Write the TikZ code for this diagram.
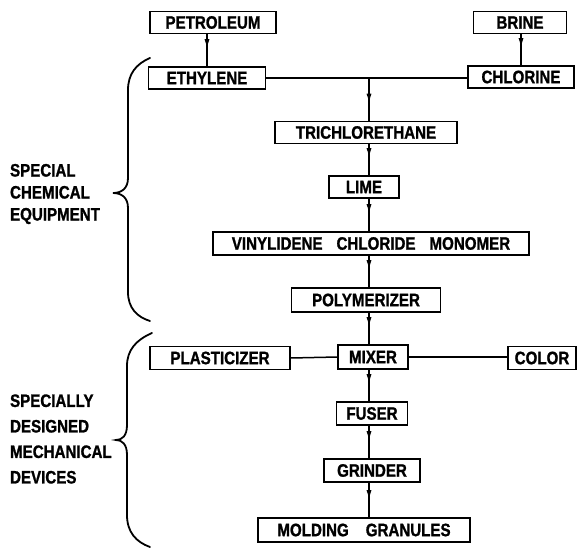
\documentclass[tikz,border=0pt]{standalone}
\usepackage{fontspec}
\setmainfont{Liberation Sans}[FakeStretch=0.84, BoldFeatures={FakeBold=1.2}]
\usetikzlibrary{
  arrows.meta
}

\begin{document}
\begin{tikzpicture}[
  x=1pt, y=-1pt,
  >=Latex,
  font=\fontsize{18}{20}\selectfont\bfseries,
  line width=1.5pt,
  box/.style={draw, line width=1.6pt, inner sep=0pt, minimum height=22pt},
  flow/.style={postaction={draw, -{Latex[length=10pt,width=5pt]}, shorten >=17pt}},
  brace/.style={line width=1.8pt, line cap=round}
]
  \useasboundingbox (0,0) rectangle (580,548);
  \coordinate (spine) at (369,0);
  % 原料
  \node[box, minimum width=126pt] (petroleum) at (213,22.5) {PETROLEUM};
  \node[box, minimum width=93pt]  (brine)     at (520,22.5) {BRINE};
  \node[box, minimum width=117pt] (ethylene)  at (207,78)   {ETHYLENE};
  \node[box, minimum width=106pt] (chlorine)  at (521,77)   {CHLORINE};
  % 化学流程
  \node[box, minimum width=182pt] (trich)   at (366,132.5) {TRICHLORETHANE};
  \node[box, minimum width=70pt]  (lime)    at (364,187)   {LIME};
  \node[box, minimum width=316pt, minimum height=23pt] (monomer) at (371,243.5)
    {VINYLIDENE\hspace{14pt}CHLORIDE\hspace{14pt}MONOMER};
  \node[box, minimum width=149pt, minimum height=24pt] (polymer) at (366,300) {POLYMERIZER};
  % 机械流程
  \node[box, minimum width=140pt, minimum height=23pt] (plasticizer) at (220,358) {PLASTICIZER};
  \node[box, minimum width=70pt,  minimum height=24pt] (mixer)  at (373,357) {MIXER};
  \node[box, minimum width=68pt,  minimum height=23pt] (color)  at (542,358) {COLOR};
  \node[box, minimum width=71pt,  minimum height=23pt] (fuser)  at (372,413.5) {FUSER};
  \node[box, minimum width=96pt,  minimum height=23pt] (grinder) at (372,470.5) {GRINDER};
  \node[box, minimum width=212pt, minimum height=24pt] (granules) at (364,530)
    {MOLDING\hspace{17pt}GRANULES};
  % 连线
  \draw[flow] (ethylene.north |- petroleum.south) -- (ethylene.north);
  \draw[flow] (chlorine.north |- brine.south) -- (chlorine.north);
  \draw (ethylene.east) -- (ethylene.east -| chlorine.west);
  \draw[flow] (ethylene.east -| spine) -- (trich.north -| spine);
  \draw[flow] (trich.south -| spine) -- (lime.north -| spine);
  \draw[flow] (lime.south -| spine) -- (monomer.north -| spine);
  \draw[flow] (monomer.south -| spine) -- (polymer.north -| spine);
  \draw[flow] (polymer.south -| spine) -- (mixer.north -| spine);
  \draw (plasticizer.east) -- (mixer.west);
  \draw (mixer.east) -- (mixer.east -| color.west);
  \draw[flow] (mixer.south -| spine) -- (fuser.north -| spine);
  \draw[flow] (fuser.south -| spine) -- (grinder.north -| spine);
  \draw[flow] (grinder.south -| spine) -- (granules.north -| spine);
  % 花括号与说明
  \draw[brace] (150,58) .. controls (136,64) and (128,74) .. (128,90)
    -- (128,178) .. controls (128,189) and (121,193) .. (113,193)
    .. controls (121,193) and (128,197) .. (128,208)
    -- (128,292) .. controls (128,308) and (137,317) .. (150,321);
  \draw[brace] (152,333) .. controls (136,340) and (127,350) .. (127,366)
    -- (127,425) .. controls (127,436) and (122,440) .. (116,440)
    .. controls (122,440) and (127,444) .. (127,455)
    -- (127,515) .. controls (127,532) and (136,542) .. (150,547);
  \node[align=left, anchor=west, font=\fontsize{18}{22}\selectfont\bfseries]
    (chemlab) at (6,194) {SPECIAL\\CHEMICAL\\EQUIPMENT};
  \node[align=left, anchor=west, font=\fontsize{18}{25.5}\selectfont\bfseries]
    (mechlab) at (6,439) {SPECIALLY\\DESIGNED\\MECHANICAL\\DEVICES};
\end{tikzpicture}
\end{document}
